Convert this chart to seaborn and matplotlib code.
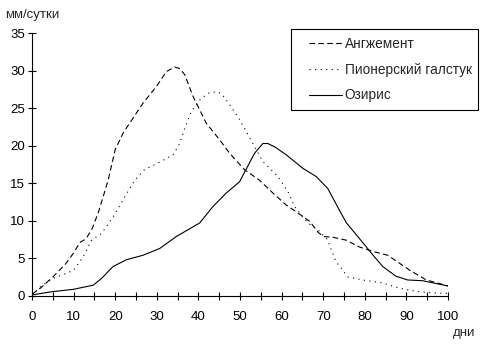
import matplotlib
matplotlib.use("Agg")
import matplotlib.pyplot as plt
from matplotlib.ticker import MultipleLocator
from matplotlib.legend_handler import HandlerLine2D
import seaborn as sns
import pandas as pd

# Daily growth (mm/day) by day for three varieties
angz_x = [0, 2, 5, 8, 10, 11.5, 13, 14.5, 16, 18.3, 20, 22, 24.3, 26.7, 29.9, 32.3, 34.3, 35.5,
          36.7, 38.7, 41.9, 45.1, 47.5, 51.1, 54.7, 57.9, 61.1, 63.5, 66.8, 68.7, 70, 72.3, 75.6,
          78.7, 82, 85.5, 87.9, 90.8, 94.8, 100]
angz_y = [0.2, 1.0, 2.5, 4.2, 5.7, 7.1, 7.6, 9.0, 11.2, 15.4, 19.5, 21.8, 23.7, 25.7, 27.9, 29.9,
          30.5, 30.3, 29.5, 26.6, 23.0, 20.8, 19.0, 16.8, 15.4, 13.7, 12.1, 11.2, 9.9, 8.5, 7.9,
          7.8, 7.4, 6.5, 5.9, 5.4, 4.5, 3.4, 2.1, 1.3]

pion_x = [0, 2, 5, 8.3, 10, 12.3, 14.3, 16.7, 19.5, 22.3, 24.7, 27, 30.3, 33.9, 35.5, 36.7, 38.3,
          40.3, 42.3, 44.3, 45.5, 47.5, 49.9, 51.5, 55.5, 59.1, 61.5, 63.1, 66.3, 68.7, 71, 73.1,
          74.3, 75.9, 79.5, 84.3, 88.3, 92.3, 95.5, 100]
pion_y = [0.1, 1.2, 2.3, 3.0, 3.4, 5.2, 7.4, 8.3, 10.5, 13.2, 15.4, 16.8, 17.7, 18.8, 20.3, 22.3,
          24.6, 26.1, 27.0, 27.2, 27.0, 25.5, 23.5, 21.9, 17.9, 15.9, 13.9, 11.9, 9.7, 8.8, 7.5,
          4.5, 3.7, 2.5, 2.1, 1.7, 1.0, 0.6, 0.4, 0.3]

ozir_x = [0, 4.3, 9.9, 14.7, 16.7, 19.5, 22.7, 26.7, 30.7, 34.7, 40.3, 43.5, 46.7, 49.9, 53.5,
          55.5, 56.7, 58.5, 61.1, 65.1, 68.3, 71.1, 73.9, 75.6, 78.3, 82, 84.3, 87.5, 90.3, 93.9, 100]
ozir_y = [0.1, 0.5, 0.85, 1.4, 2.3, 3.9, 4.8, 5.4, 6.3, 7.9, 9.7, 11.9, 13.7, 15.2, 19.0, 20.3,
          20.3, 19.8, 18.8, 17.0, 15.9, 14.3, 11.4, 9.7, 7.9, 5.4, 3.9, 2.6, 2.1, 2.0, 1.3]

labels = ["Ангжемент", "Пионерский галстук", "Озирис"]

sns.set_theme(style="white")
plt.rcParams["font.family"] = ["Liberation Sans", "DejaVu Sans"]
plt.rcParams["font.size"] = 9.5

fig = plt.figure(figsize=(4.83, 3.47), dpi=100)
ax = fig.add_axes([0.0663, 0.1478, 0.8612, 0.7562])

series = [
    (angz_x, angz_y, labels[0], (0, (5, 3))),
    (pion_x, pion_y, labels[1], (0, (1, 4))),
    (ozir_x, ozir_y, labels[2], "-"),
]
for xs, ys, name, ls in series:
    df = pd.DataFrame({"день": xs, "значение": ys})
    sns.lineplot(data=df, x="день", y="значение", ax=ax, color="black",
                 linewidth=0.8, linestyle=ls, label=name, sort=False)

ax.set_xlim(0, 100)
ax.set_ylim(0, 35)
ax.xaxis.set_major_locator(MultipleLocator(10))
ax.xaxis.set_minor_locator(MultipleLocator(5))
ax.yaxis.set_major_locator(MultipleLocator(5))
ax.tick_params(axis="both", which="both", direction="inout", length=6, width=0.8,
               color="black", labelsize=9.5, labelcolor="black")
ax.tick_params(axis="x", which="both", bottom=True, pad=8)
ax.tick_params(axis="y", which="both", left=True, pad=2)
for side in ["top", "right"]:
    ax.spines[side].set_visible(False)
for side in ["left", "bottom"]:
    ax.spines[side].set_color("black")
    ax.spines[side].set_linewidth(0.8)
ax.set_xlabel("")
ax.set_ylabel("")
ax.grid(False)

fig.text(5 / 483, 1 - 15 / 347, "мм/сутки", ha="left", va="center", fontsize=9.5)
fig.text(464 / 483, 1 - 333 / 347, "дни", ha="center", va="center", fontsize=9.5)

ax.get_legend().remove()
handles, lbls = ax.get_legend_handles_labels()
fs = 9.8
leg = fig.legend(handles, lbls, loc="upper left",
                 bbox_to_anchor=(291 / 483, 1 - 29 / 347, 187 / 483, 0.0),
                 mode="expand", borderaxespad=0, frameon=True, fancybox=False,
                 edgecolor="black", framealpha=1, fontsize=fs, handlelength=3.13,
                 handletextpad=0.22, labelspacing=0.85, borderpad=0.6,
                 handler_map={h: HandlerLine2D(xpad=0.72) for h in handles})
leg.get_frame().set_linewidth(0.8)

fig.savefig("out.png", dpi=100)
